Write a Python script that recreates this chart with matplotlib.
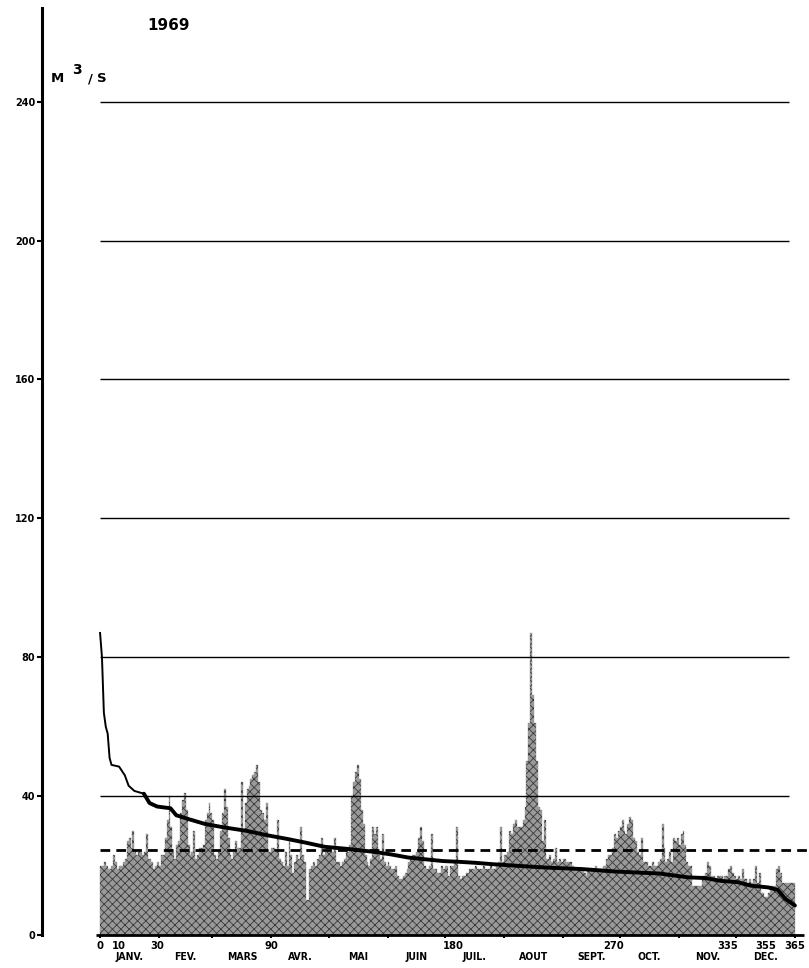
# IMPORTING LIBRARIES
import numpy as np
import matplotlib
matplotlib.use('Agg')
import matplotlib.pyplot as plt

# DAILY DISCHARGE 1969 (M3/S), ONE LIST PER MONTH
janv = [20, 20, 21, 20, 19, 19, 20, 23, 21, 19, 20, 20, 21, 22, 27, 28, 25, 30, 24, 23, 24, 24, 23, 24, 29, 22, 22, 21, 19, 20, 21]
fev = [20, 23, 23, 28, 33, 40, 31, 24, 22, 26, 27, 35, 39, 41, 36, 26, 23, 24, 30, 22, 23, 25, 25, 26, 33, 35, 38, 35]
mars = [33, 23, 22, 24, 30, 35, 42, 37, 28, 23, 22, 24, 27, 25, 25, 44, 30, 38, 42, 43, 45, 46, 47, 49, 44, 36, 35, 33, 38, 24, 24]
avr = [25, 25, 24, 33, 22, 21, 20, 24, 20, 28, 23, 18, 21, 23, 22, 31, 23, 21, 10, 10, 19, 20, 21, 20, 22, 23, 28, 23, 24, 24]
mai = [24, 24, 24, 28, 21, 21, 20, 21, 22, 24, 24, 26, 40, 44, 47, 49, 45, 36, 32, 23, 21, 20, 22, 31, 29, 31, 23, 22, 29, 21, 20]
juin = [21, 20, 19, 19, 20, 17, 16, 16, 17, 18, 19, 21, 22, 23, 23, 24, 28, 31, 27, 20, 19, 19, 20, 29, 19, 19, 18, 18, 20, 19]
juil = [20, 20, 17, 20, 20, 21, 31, 17, 16, 17, 17, 18, 18, 19, 19, 19, 20, 19, 19, 19, 20, 19, 19, 19, 20, 19, 19, 20, 21, 31, 21]
aout = [23, 23, 24, 30, 29, 32, 33, 31, 31, 31, 33, 37, 50, 61, 87, 69, 61, 50, 37, 36, 27, 33, 22, 22, 23, 21, 22, 25, 21, 22, 21]
sept = [22, 22, 21, 21, 21, 20, 19, 19, 19, 19, 19, 18, 17, 19, 19, 19, 19, 20, 19, 19, 19, 20, 20, 22, 23, 23, 25, 29, 28, 30]
octo = [31, 33, 30, 29, 32, 34, 33, 28, 27, 24, 23, 28, 21, 21, 21, 20, 20, 21, 20, 20, 21, 22, 32, 25, 21, 22, 24, 21, 28, 27, 28]
nov = [26, 29, 30, 26, 21, 20, 20, 14, 14, 14, 14, 14, 17, 17, 18, 21, 20, 17, 17, 16, 17, 17, 17, 16, 17, 17, 19, 20, 18, 17]
dec = [16, 17, 16, 19, 16, 16, 15, 16, 15, 16, 20, 15, 18, 12, 12, 11, 11, 12, 14, 14, 14, 19, 20, 18, 15, 15, 15, 15, 15, 15, 15]

# FLOW DURATION CURVE (DAYS EXCEEDED, DISCHARGE) AND ANNUAL MEAN
duree_jours = [0, 1, 2, 3, 4, 5, 6, 10, 13, 15, 18, 23, 26, 30, 37, 40, 47, 55, 65, 77, 88, 98, 108, 118,
               130, 143, 153, 162, 171, 180, 188, 197, 206, 220, 235, 253, 270, 294, 309, 318, 326, 335,
               342, 351, 356, 360, 365]
duree_debit = [87, 80, 64, 60, 58, 51, 49, 48.5, 46, 43, 41.5, 40.7, 38, 37, 36.5, 34.5, 33.3, 32, 31, 30,
               28.7, 27.7, 26.6, 25.4, 24.8, 24, 23.2, 22.3, 21.8, 21.3, 21.1, 20.8, 20.4, 19.9, 19.4, 19,
               18.3, 17.7, 16.6, 16.4, 15.6, 15.2, 14.2, 13.7, 13, 10.4, 8.5]
moyenne = 24.5

# AXIS LABELS
annee = '1969'
mois = ['JANV.', 'FEV.', 'MARS', 'AVR.', 'MAI', 'JUIN', 'JUIL.', 'AOUT', 'SEPT.', 'OCT.', 'NOV.', 'DEC.']
fin_mois = [0, 31, 59, 90, 120, 151, 181, 212, 243, 273, 304, 334, 365]
jours_marques = [0, 10, 30, 90, 180, 270, 335, 355, 365]
y_ticks = [0, 40, 80, 120, 160, 200, 240]
y_labels = ['0', '40', '80', '120', '160', '200', '240']

debits = np.array(janv + fev + mars + avr + mai + juin + juil + aout + sept + octo + nov + dec, dtype=float)
jours = np.arange(1, len(debits) + 1)

plt.rcParams['font.family'] = 'DejaVu Sans'
plt.rcParams['font.weight'] = 'bold'
plt.rcParams['hatch.linewidth'] = 0.6

fig = plt.figure(figsize=(8.09, 9.68), dpi=100)
ax = fig.add_axes([42 / 809, 33 / 968, 767 / 809, 927 / 968])
ax.set_xlim(-30.5, 372.4)
ax.set_ylim(0, 267)

# Daily bars (grey with halftone-like texture)
ax.bar(jours - 0.5, debits, width=1.0, color='#999999', edgecolor='#999999', linewidth=0.3, zorder=2)
ax.bar(jours - 0.5, debits, width=1.0, facecolor='none', edgecolor='#3a3a3a', hatch='xxxx',
       linewidth=0, zorder=2)

# Horizontal grid lines
for v in y_ticks[1:]:
    ax.hlines(v, 0, 362, color='black', linewidth=1.0, zorder=3)

# Mean (dashed)
ax.hlines(moyenne, 0, 373, color='black', linewidth=2.0, linestyles=(0, (3.5, 2.2)), zorder=4)

# Duration curve: thin at the top, thicker further down
ax.plot(duree_jours[:12], duree_debit[:12], color='black', linewidth=1.4, zorder=5)
ax.plot(duree_jours[11:], duree_debit[11:], color='black', linewidth=2.8, zorder=5,
        solid_capstyle='round', solid_joinstyle='round')

# Base line
ax.hlines(0, -2, 370, color='black', linewidth=2.0, zorder=6, clip_on=False)

# Axes styling
for s in ['top', 'right', 'bottom']:
    ax.spines[s].set_visible(False)
ax.spines['left'].set_linewidth(2.2)
ax.set_yticks(y_ticks)
ax.set_yticklabels(y_labels, fontsize=7, fontweight='bold')
ax.tick_params(axis='y', direction='out', length=3.5, width=1.5, pad=1.5)
ax.set_xticks(fin_mois)
ax.set_xticklabels([''] * len(fin_mois))
ax.tick_params(axis='x', direction='out', length=2.5, width=1.5, pad=0)

# Day numbers and month names under the axis
align = {0: 'center', 10: 'center', 30: 'center', 90: 'center', 180: 'left',
         270: 'center', 335: 'right', 355: 'right', 365: 'center'}
for j in jours_marques:
    ax.text(j, -0.0119, str(j), transform=ax.get_xaxis_transform(), ha=align[j], va='center',
            fontsize=8, fontweight='bold', fontstretch='condensed')
for i, m in enumerate(mois):
    centre = (fin_mois[i] + fin_mois[i + 1]) / 2
    ax.text(centre, -0.0237, m, transform=ax.get_xaxis_transform(), ha='center', va='center',
            fontsize=7.5, fontweight='bold', fontstretch='condensed')

# Title and unit
fig.text(169 / 809, 1 - 25 / 968, annee, ha='center', va='center', fontsize=11, fontweight='bold')
fig.text(57 / 809, 1 - 79 / 968, 'M', ha='center', va='center', fontsize=9.5, fontweight='bold')
fig.text(77 / 809, 1 - 70 / 968, '3', ha='center', va='center', fontsize=10, fontweight='bold')
fig.text(90 / 809, 1 - 79 / 968, '/', ha='center', va='center', fontsize=9.5, fontweight='bold')
fig.text(102 / 809, 1 - 79 / 968, 'S', ha='center', va='center', fontsize=9.5, fontweight='bold')

fig.savefig('out.png', dpi=100)
